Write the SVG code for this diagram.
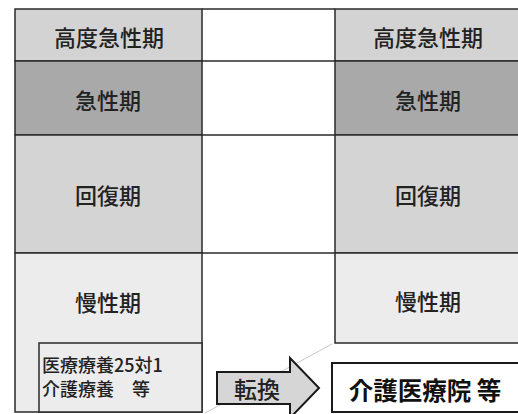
<svg xmlns="http://www.w3.org/2000/svg" width="518" height="414" viewBox="0 0 518 414">
<style>
.cell{stroke:#2a2a2a;stroke-width:1.5}
.ln{stroke:#2a2a2a;stroke-width:1.5;fill:none}
.t{font-family:"Noto Sans CJK JP","Noto Sans",sans-serif;fill:#222;text-anchor:middle;dominant-baseline:central;font-weight:500}
.b{font-size:22px}
.s{font-family:"Noto Sans CJK JP","Noto Sans",sans-serif;fill:#222;font-size:18px;font-weight:500}
.bold{font-weight:bold;fill:#111}
</style>
<rect width="518" height="414" fill="#fff"/>
<g id="connectors">
<line class="ln" x1="202" y1="9" x2="335" y2="9"/>
<line class="ln" x1="202" y1="61" x2="335" y2="61"/>
<line class="ln" x1="202" y1="135" x2="335" y2="135"/>
<line class="ln" x1="202" y1="253" x2="335" y2="253"/>
<line x1="205" y1="413" x2="332" y2="344" stroke="#c8c8c8" stroke-width="1"/>
</g>
<g id="left-high-acute"><rect class="cell" x="15" y="9" width="187" height="52" fill="#d3d3d3"/><text class="t b" x="109" y="36">高度急性期</text></g>
<g id="left-acute"><rect class="cell" x="15" y="61" width="187" height="74" fill="#a9a9a9"/><text class="t b" x="108" y="99">急性期</text></g>
<g id="left-recovery"><rect class="cell" x="15" y="135" width="187" height="118" fill="#d4d4d4"/><text class="t b" x="108" y="194">回復期</text></g>
<g id="left-chronic"><rect class="cell" x="15" y="253" width="187" height="159" fill="#ececec"/><text class="t b" x="108" y="301">慢性期</text></g>
<g id="left-inner"><rect class="cell" x="39" y="343" width="163" height="69" fill="#ececec"/><text class="s" x="42" y="372">医療療養25対1</text><text class="s" x="42" y="396">介護療養　等</text></g>
<g id="right-high-acute"><rect class="cell" x="335" y="9" width="185" height="52" fill="#d3d3d3"/><text class="t b" x="428" y="36">高度急性期</text></g>
<g id="right-acute"><rect class="cell" x="335" y="61" width="185" height="74" fill="#a9a9a9"/><text class="t b" x="428" y="99">急性期</text></g>
<g id="right-recovery"><rect class="cell" x="335" y="135" width="185" height="118" fill="#d4d4d4"/><text class="t b" x="428" y="194">回復期</text></g>
<g id="right-chronic"><rect class="cell" x="335" y="253" width="185" height="90" fill="#ececec"/><text class="t b" x="428" y="300">慢性期</text></g>
<g id="arrow"><polygon points="217,372 290,372 290,358 319,388 290,418 290,404 217,404" fill="#d6d6d6" stroke="#1a1a1a" stroke-width="2"/><text class="t" x="257" y="388" font-size="23">転換</text></g>
<g id="kaigo"><rect x="332" y="363" width="190" height="49" fill="#fff" stroke="#1a1a1a" stroke-width="2"/><text class="t bold" x="425" y="389" font-size="24.5">介護医療院 等</text></g>
</svg>
